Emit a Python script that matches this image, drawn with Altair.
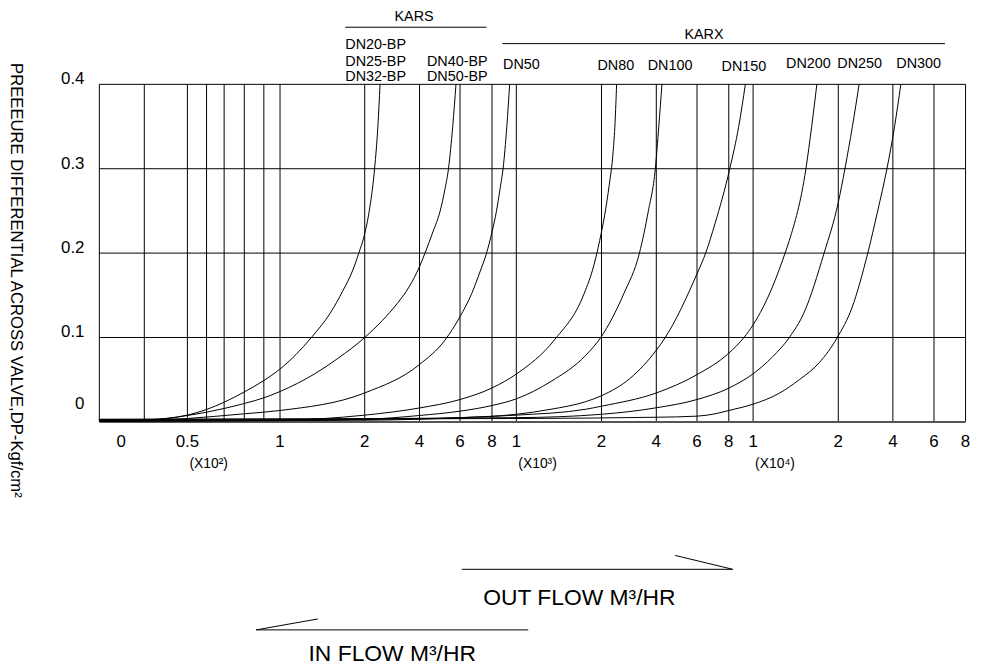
import altair as alt
import pandas as pd

FONT = "Liberation Sans"

# ---- grid / tick data -------------------------------------------------------
grid_x = [25, 50, 60, 70, 80, 90, 100, 200, 400, 600, 800, 1000, 2000, 4000,
          6000, 8000, 10000, 20000, 40000, 60000, 80000]
grid_y = [0.1, 0.2, 0.3, 0.4]

xtick_values = [0, 50, 100, 200, 400, 600, 800, 1000, 2000, 4000, 6000, 8000,
                10000, 20000, 40000, 60000, 80000]
xtick_labels = ["0", "0.5", "1", "2", "4", "6", "8", "1", "2", "4", "6", "8",
                "1", "2", "4", "6", "8"]
mult_values = [50, 1000, 10000]
mult_labels = ["(X10²)", "(X10³)", "(X10⁴)"]
ytick_values = [0.4, 0.3, 0.2, 0.1, 0.0]
ytick_labels = ["0.4", "0.3", "0.2", "0.1", "0"]

# ---- curves (flow m3/hr, pressure differential kgf/cm2) --------------------
curve_names = ["DN20/25/32-BP", "DN40/50-BP", "DN50", "DN80", "DN100",
               "DN150", "DN200", "DN250", "DN300"]

a_x = [0, 20, 25, 50, 60, 70, 80, 90, 100, 119, 137, 160, 174, 186, 193, 200,
       219, 236, 248, 256]
a_y = [0.001, 0.001, 0.002, 0.008, 0.0147, 0.0233, 0.0355, 0.049, 0.0626, 0.08,
       0.1, 0.13, 0.155, 0.18, 0.2, 0.223, 0.255, 0.3, 0.35, 0.4]

b_x = [0, 22, 30, 50, 60, 70, 80, 90, 100, 141, 168, 200, 264, 318, 362, 400,
       427, 466, 502, 525, 543, 564, 580]
b_y = [0.001, 0.001, 0.002, 0.0076, 0.0115, 0.0159, 0.0218, 0.0285, 0.036,
       0.057, 0.075, 0.1, 0.12, 0.14, 0.16, 0.184, 0.2, 0.225, 0.25, 0.275,
       0.3, 0.35, 0.4]

c_x = [0, 25, 34, 50, 80, 100, 200, 400, 526, 600, 673, 729, 766, 800, 837,
       865, 891, 922, 945]
c_y = [0.001, 0.001, 0.002, 0.004, 0.0096, 0.0135, 0.0343, 0.068, 0.097,
       0.1247, 0.152, 0.18, 0.2, 0.225, 0.25, 0.275, 0.3, 0.35, 0.4]

d_x = [0, 100, 200, 400, 600, 800, 1000, 1446, 1796, 1909, 1979, 2116, 2279,
       2424, 2496, 2551]
d_y = [0.001, 0.002, 0.008, 0.0165, 0.0265, 0.0402, 0.0567, 0.097, 0.152,
       0.185, 0.215, 0.245, 0.28, 0.32, 0.355, 0.4]

e_x = [0, 100, 200, 400, 600, 800, 1000, 1408, 1816, 1991, 2815, 3384, 3710,
       3964, 4122, 4278]
e_y = [0.001, 0.0015, 0.003, 0.0076, 0.0127, 0.0194, 0.0273, 0.048, 0.079,
       0.1, 0.152, 0.2, 0.25, 0.3, 0.35, 0.4]

f_x = [0, 200, 600, 1000, 1408, 1816, 2000, 3058, 4000, 4439, 6000, 6544,
       7125, 8082, 8816, 9363]
f_y = [0.001, 0.002, 0.005, 0.009, 0.015, 0.024, 0.031, 0.052, 0.085, 0.1,
       0.1755, 0.2, 0.2345, 0.3, 0.35, 0.4]

g_x = [0, 200, 600, 1000, 1816, 2000, 4000, 6000, 8000, 9249, 10000, 12273,
       13753, 14254, 16200, 16876, 17483]
g_y = [0.002, 0.003, 0.005, 0.008, 0.015, 0.0186, 0.0343, 0.056, 0.0814, 0.1,
       0.115, 0.16, 0.2, 0.215, 0.3, 0.35, 0.4]

h_x = [0, 1000, 2000, 4000, 6000, 8000, 10000, 12273, 14254, 16002, 18333,
       20000, 22436, 25164, 27636]
h_y = [0.003, 0.005, 0.009, 0.0167, 0.0265, 0.04, 0.057, 0.077, 0.1, 0.13,
       0.2, 0.26, 0.3, 0.35, 0.4]

i_x = [0, 1000, 4000, 6000, 7125, 8000, 10000, 13089, 15420, 17751, 19883,
       24982, 30800, 34436, 37818, 40821, 43865]
i_y = [0.003, 0.004, 0.0055, 0.0068, 0.0095, 0.0135, 0.021, 0.034, 0.05,
       0.07, 0.1, 0.135, 0.2, 0.25, 0.3, 0.35, 0.4]

series = [(a_x, a_y), (b_x, b_y), (c_x, c_y), (d_x, d_y), (e_x, e_y),
          (f_x, f_y), (g_x, g_y), (h_x, h_y), (i_x, i_y)]

rows = []
for name, (xs, ys) in zip(curve_names, series):
    for order, (xv, yv) in enumerate(zip(xs, ys)):
        rows.append({"curve": name, "flow": xv, "dp": yv, "o": order})
curves_df = pd.DataFrame(rows)

xt_df = pd.DataFrame({"v": xtick_values, "t": xtick_labels})
mult_df = pd.DataFrame({"v": mult_values, "t": mult_labels})
yt_df = pd.DataFrame({"v": ytick_values, "t": ytick_labels})
vgrid_df = pd.DataFrame({"v": [0] + grid_x})
hgrid_df = pd.DataFrame({"v": grid_y})
base_df = pd.DataFrame({"v": [0.0]})

# ---- scales (printed x axis is piecewise: linear to 100, then decade blocks) --
xscale = alt.Scale(
    domain=[0] + grid_x,
    range=[0, 45.3, 88.7, 108, 125.7, 146, 165.7, 182, 267.3, 322.5, 363.3,
           395.5, 420, 505.8, 561, 602, 634, 658.5, 744.3, 799.3, 840.7, 872.5],
    zero=False, nice=False,
)
yscale = alt.Scale(domain=[0, 0.4], zero=False, nice=False)

vgrid = alt.Chart(vgrid_df).mark_rule(color="black", strokeWidth=1).encode(
    x=alt.X("v:Q", scale=xscale, axis=None), y=alt.value(0), y2=alt.value(340)
)
hgrid = alt.Chart(hgrid_df).mark_rule(color="black", strokeWidth=1).encode(
    y=alt.Y("v:Q", scale=yscale, axis=None), x=alt.value(0), x2=alt.value(872.5)
)
baseline = alt.Chart(base_df).mark_rule(color="#555555", strokeWidth=2).encode(
    y=alt.Y("v:Q", scale=yscale, axis=None), x=alt.value(0), x2=alt.value(872.5)
)

curves = alt.Chart(curves_df).mark_line(
    color="black", strokeWidth=1, interpolate="monotone"
).encode(
    x=alt.X("flow:Q", scale=xscale, axis=None),
    y=alt.Y("dp:Q", scale=yscale, axis=None),
    detail="curve:N",
    order="o:Q",
)

xt_zero = alt.Chart(xt_df).transform_filter("datum.v == 0").mark_text(
    font=FONT, fontSize=17, baseline="middle", align="center", dx=22, color="black"
).encode(x=alt.X("v:Q", scale=xscale, axis=None), y=alt.value(360), text="t:N")

xt_rest = alt.Chart(xt_df).transform_filter("datum.v > 0").mark_text(
    font=FONT, fontSize=17, baseline="middle", align="center", color="black"
).encode(x=alt.X("v:Q", scale=xscale, axis=None), y=alt.value(360), text="t:N")

mult = alt.Chart(mult_df).mark_text(
    font=FONT, fontSize=14, baseline="middle", align="left", dx=2, color="black"
).encode(x=alt.X("v:Q", scale=xscale, axis=None), y=alt.value(382.5), text="t:N")

yt_rest = alt.Chart(yt_df).transform_filter("datum.v > 0").mark_text(
    font=FONT, fontSize=17, baseline="alphabetic", align="right", color="black"
).encode(x=alt.value(-15), y=alt.Y("v:Q", scale=yscale, axis=None), text="t:N")

yt_zero = alt.Chart(yt_df).transform_filter("datum.v == 0").mark_text(
    font=FONT, fontSize=17, baseline="alphabetic", align="right", dy=-13, color="black"
).encode(x=alt.value(-15), y=alt.Y("v:Q", scale=yscale, axis=None), text="t:N")


def note(text, x, y, size=14.5, align="left", angle=0):
    return alt.Chart(alt.Data(values=[{}])).mark_text(
        text=text, font=FONT, fontSize=size, align=align, baseline="middle",
        angle=angle, color="black"
    ).encode(x=alt.value(x), y=alt.value(y))


def seg(x1, y1, x2, y2):
    return alt.Chart(alt.Data(values=[{}])).mark_rule(
        color="black", strokeWidth=1
    ).encode(x=alt.value(x1), y=alt.value(y1), x2=alt.value(x2), y2=alt.value(y2))


notes = [
    note("KARS", 317, -67.5, align="center"),
    seg(247.7, -57.5, 390, -57.5),
    note("DN20-BP", 247.7, -39.5),
    note("DN25-BP", 247.7, -22.5),
    note("DN32-BP", 247.7, -7),
    note("DN40-BP", 330, -22.5),
    note("DN50-BP", 330, -7),
    note("KARX", 609, -49.5, align="center"),
    seg(406, -41, 851.7, -41),
    note("DN50", 406.7, -19),
    note("DN80", 501.7, -18),
    note("DN100", 552.3, -18),
    note("DN150", 626.7, -17.5),
    note("DN200", 691.7, -20),
    note("DN250", 743.3, -20),
    note("DN300", 802.7, -20),
    note("PREEEURE DIFFERENTIAL ACROSS VALVE,DP-Kgf/cm²", -83.5, 197.5,
         size=16.8, align="center", angle=90),
    seg(365, 488.5, 638, 488.5),
    seg(580, 474.5, 638, 488.5),
    note("OUT FLOW M³/HR", 483.5, 517.5, size=23, align="center"),
    seg(158, 549.5, 432, 549.5),
    seg(158, 549.5, 220, 538.5),
    note("IN FLOW M³/HR", 295, 574, size=23, align="center"),
]

chart = alt.layer(
    vgrid, hgrid, baseline, curves, xt_zero, xt_rest, mult, yt_rest, yt_zero,
    *notes
).properties(
    width=873, height=340,
    autosize=alt.AutoSizeParams(type="none"),
    padding={"left": 92, "top": 74.5, "right": 8, "bottom": 243.5},
).configure(font=FONT).configure_view(stroke="transparent")

chart.save("out.html", embed_options={"renderer": "svg", "actions": False})
